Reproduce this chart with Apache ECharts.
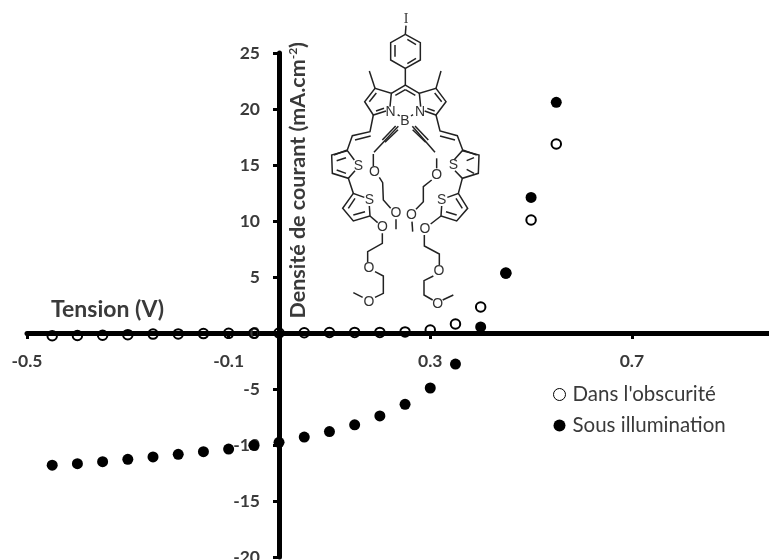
<!DOCTYPE html>
<html><head><meta charset="utf-8">
<style>html,body{margin:0;padding:0;background:#fff}#c{width:769px;height:560px}</style>
<script src="https://cdn.jsdelivr.net/npm/echarts@6/dist/echarts.min.js"></script>
</head><body><div id="c"></div>
<script>
const voltage = [-0.45,-0.40,-0.35,-0.30,-0.25,-0.20,-0.15,-0.10,-0.05,0,0.05,0.10,0.15,0.20,0.25,0.30,0.35,0.40,0.45,0.50,0.55];
const dark = [-0.24,-0.22,-0.2,-0.15,-0.1,-0.08,-0.05,-0.03,-0.02,0,0.02,0.04,0.05,0.05,0.1,0.27,0.8,2.32,5.36,10.09,16.87];
const light = [-11.8,-11.67,-11.49,-11.28,-11.07,-10.83,-10.6,-10.36,-10.03,-9.76,-9.29,-8.8,-8.2,-7.4,-6.37,-4.91,-2.77,0.54,5.33,12.1,20.6];
const xTicks = [-0.5,-0.1,0.3,0.7];
const FONT = 'Lato, "Open Sans", sans-serif', TXT = '#3a3a3a';

// Decorative molecule, in zoomed drawing units
const molTop = [
 [[228,62],[226,88]], [[226,88],[271,113],[271,165],[226,190],[182,165],[182,113],[226,88]],
 [[232,103],[258,119]], [[195,120],[195,155]], [[232,176],[258,160]],
 [[226,190],[226,240]], [[184,265],[226,240],[268,265]], [[196,271],[226,254]], [[226,254],[256,271]],
 [[180,305],[184,265],[135,250],[104,290],[130,330],[168,318]], [[135,250],[118,198]],
 [[139,264],[118,290]], [[138,318],[162,310]],
 [[272,305],[268,265],[318,250],[348,290],[318,330],[284,318]], [[318,250],[333,198]],
 [[314,264],[335,290]], [[292,310],[314,318]],
 [[203,329],[209,333]], [[243,333],[249,329]],
 [[205,364],[132,442]], [[197,363],[157,405]], [[204,374],[165,412]],
 [[247,364],[315,442]], [[255,363],[295,405]], [[248,374],[287,412]],
 [[130,330],[120,380],[67,392],[52,435],[12,450]], [[75,405],[122,393]],
 [[318,330],[330,378],[382,392],[398,435],[440,450]], [[330,393],[375,405]]
];
const molBottom = [
 [[103,60],[82,32],[35,45],[37,100],[85,115],[105,92]], [[50,62],[78,53]], [[50,90],[78,100]],
 [[85,115],[100,160],[133,172]], [[100,160],[68,205],[100,243],[150,228],[148,198]], [[85,205],[105,175]], [[100,225],[135,215]],
 [[150,228],[173,248]], [[187,280],[187,310],[143,335],[143,367]], [[165,395],[190,408],[190,460],[165,472]], [[128,472],[100,458]],
 [[160,42],[160,78]], [[178,112],[188,128],[190,180],[212,205]], [[228,238],[228,268]],
 [[402,60],[427,32],[477,45],[475,100],[427,115],[405,92]], [[440,62],[462,53]], [[440,88],[462,100]],
 [[427,115],[415,160],[382,172]], [[415,160],[443,205],[410,243],[363,228],[365,198]], [[427,205],[408,175]], [[378,215],[410,225]],
 [[363,228],[332,252]], [[313,285],[313,318],[358,342],[358,375]], [[340,408],[312,422],[312,465],[338,480]], [[368,480],[400,465]],
 [[350,55],[350,85]], [[335,120],[310,140],[310,185],[288,208]], [[276,245],[278,275]]
];
const molLabelsTop = [['I',228,42,'"Liberation Serif",serif'],['N',182,320],['N',270,320],['B',225,347]];
const molLabelsBottom = [['S',115,78],['S',148,180],['S',400,75],['S',365,180],
 ['O',163,97],['O',228,220],['O',187,262],['O',147,385],['O',147,485],
 ['O',350,105],['O',274,225],['O',315,267],['O',357,393],['O',353,492]];

function molecule(x, y, lines, labels) {
  const children = lines.map(p => ({type:'polyline', shape:{points:p}, style:{fill:null, stroke:'#222', lineWidth:4.5}}));
  labels.forEach(l => children.push({type:'text', x:l[1], y:l[2], style:{text:l[0], fill:'#333', font:'42px '+(l[3]||'"Liberation Sans",sans-serif'), align:'center', verticalAlign:'middle'}}));
  return {type:'group', x:x, y:y, scaleX:1/3, scaleY:1/3, children:children, silent:true};
}

const chart = echarts.init(document.getElementById('c'), null, {renderer:'canvas'});
chart.setOption({
  animation:false,
  backgroundColor:'#fff',
  grid:{left:27, right:0, top:53, bottom:3, containLabel:false, outerBoundsMode:'none'},
  legend:{
    orient:'vertical', left:548, top:379, itemWidth:12, itemHeight:12, itemGap:10, icon:'circle',
    textStyle:{fontFamily:FONT, fontSize:20.5, color:TXT, padding:[0,0,0,2]},
    data:[
      {name:"Dans l'obscurité", itemStyle:{color:'#fff', borderColor:'#000', borderWidth:1}},
      {name:'Sous illumination', itemStyle:{color:'#000', borderWidth:0}}
    ]
  },
  xAxis:{
    type:'value', min:-0.5, max:0.972, position:'bottom', offset:-224,
    name:'Tension (V)', nameLocation:'start', nameGap:-24,
    nameTextStyle:{fontFamily:FONT, fontSize:23, fontWeight:'bold', color:TXT, align:'left', verticalAlign:'bottom', padding:[0,0,12,0]},
    axisLine:{onZero:false, lineStyle:{color:'#000', width:5}},
    axisTick:{show:true, length:6, customValues:xTicks, lineStyle:{color:'#000', width:3}},
    axisLabel:{customValues:xTicks, margin:19, fontFamily:FONT, fontSize:17.5, fontWeight:'bold', color:TXT, formatter:v=>v.toFixed(1)},
    splitLine:{show:false}
  },
  yAxis:{
    type:'value', min:-20, max:25, interval:5, position:'left', offset:-252,
    name:'Densité de courant (mA.cm{sup|-2})', nameLocation:'end', nameGap:11, nameRotate:90,
    nameTextStyle:{fontFamily:FONT, fontSize:21.5, fontWeight:'bold', color:TXT, align:'right', verticalAlign:'top', padding:[8,0,0,0],
      rich:{sup:{fontFamily:FONT, fontSize:12, fontWeight:'bold', color:TXT, verticalAlign:'top'}}},
    axisLine:{onZero:false, lineStyle:{color:'#000', width:5}},
    axisTick:{show:true, length:6, lineStyle:{color:'#000', width:3}},
    axisLabel:{margin:19, fontFamily:FONT, fontSize:17.5, fontWeight:'bold', color:TXT},
    splitLine:{show:false}
  },
  graphic:{elements:[molecule(330,5,molTop,molLabelsTop), molecule(320,140,molBottom,molLabelsBottom)]},
  series:[
    {name:"Dans l'obscurité", type:'scatter', symbol:'circle', symbolSize:9.5, clip:false,
     itemStyle:{color:'transparent', borderColor:'#000', borderWidth:2, opacity:1},
     data:voltage.map((v,i)=>[v,dark[i]])},
    {name:'Sous illumination', type:'scatter', symbol:'circle', symbolSize:11, clip:false,
     itemStyle:{color:'#000', opacity:1},
     data:voltage.map((v,i)=>[v,light[i]])}
  ]
});
</script></body></html>
